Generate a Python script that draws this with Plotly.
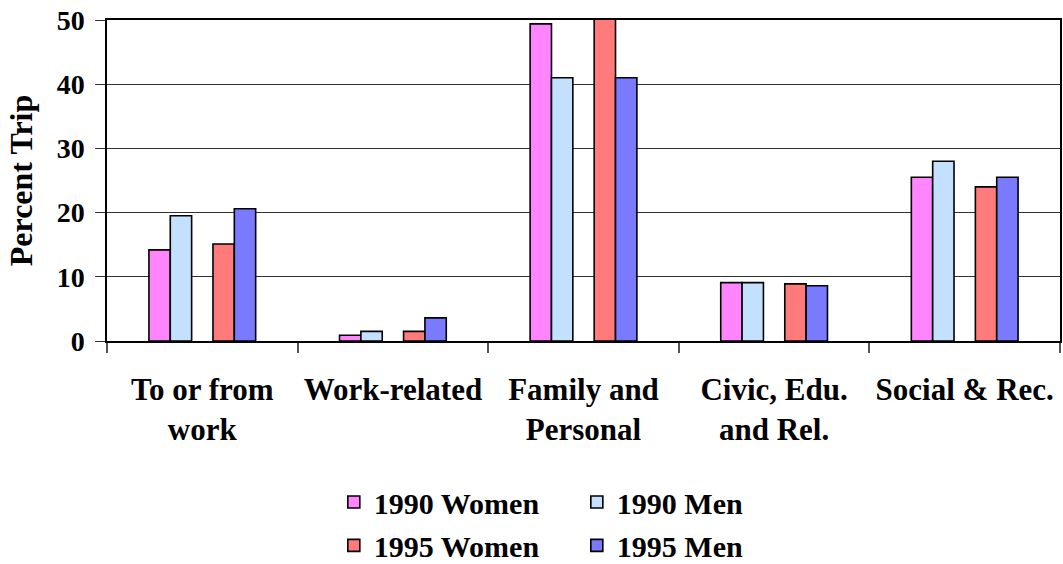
import plotly.graph_objects as go

categories = ["To or from<br>work", "Work-related", "Family and<br>Personal",
              "Civic, Edu.<br>and Rel.", "Social & Rec."]
women_1990 = [14.2, 0.9, 49.4, 9.1, 25.5]
men_1990 = [19.5, 1.5, 41.0, 9.1, 28.0]
women_1995 = [15.1, 1.5, 50.5, 8.9, 24.0]
men_1995 = [20.6, 3.6, 41.0, 8.6, 25.5]
gap_series = [None, None, None, None, None]
y_ticks = [0, 10, 20, 30, 40, 50]

FONT = "Liberation Serif, Times New Roman, serif"
outline = dict(color="black", width=1.6)

fig = go.Figure()
series = [
    ("1990 Women", women_1990, "#FF85FF", "legend"),
    ("1990 Men", men_1990, "#C4E0FF", "legend2"),
    (None, gap_series, "white", None),
    ("1995 Women", women_1995, "#FF7A7A", "legend3"),
    ("1995 Men", men_1995, "#7A7AFF", "legend4"),
]
for name, vals, col, leg in series:
    if name is None:
        fig.add_trace(go.Bar(x=categories, y=vals, showlegend=False,
                             marker=dict(color=col), hoverinfo="skip"))
    else:
        fig.add_trace(go.Bar(x=categories, y=vals, name=name, legend=leg,
                             cliponaxis=False,
                             marker=dict(color=col, line=outline)))

legend_style = dict(font=dict(family=FONT, size=30, color="black", weight="bold"),
                    bgcolor="rgba(0,0,0,0)", borderwidth=0,
                    xanchor="left", yanchor="middle",
                    xref="paper", yref="container")
fig.update_layout(
    width=1063, height=564,
    margin=dict(l=107, r=3, t=20, b=223),
    paper_bgcolor="white", plot_bgcolor="white",
    barmode="group", bargap=0.44, bargroupgap=0,
    font=dict(family=FONT, color="black", weight="bold"),
    legend=dict(x=0.238, y=0.1099, **legend_style),
    legend2=dict(x=0.493, y=0.1099, **legend_style),
    legend3=dict(x=0.238, y=0.033, **legend_style),
    legend4=dict(x=0.493, y=0.033, **legend_style),
    xaxis=dict(
        type="category", showline=True, linecolor="black", linewidth=1.5,
        mirror=True, ticks="outside", tickson="boundaries", ticklen=10,
        tickcolor="#555", tickwidth=1.5, showgrid=False,
        tickfont=dict(family=FONT, size=31, color="black", weight="bold"),
        ticklabelstandoff=20, automargin=False,
    ),
    yaxis=dict(
        range=[0, 50], tickvals=y_ticks, showline=True, linecolor="black",
        linewidth=1.5, mirror=True, ticks="outside", ticklen=10,
        tickcolor="#333", showgrid=True, gridcolor="#333", gridwidth=1,
        zeroline=False, ticklabeloverflow="allow",
        tickfont=dict(family=FONT, size=28, color="black", weight="bold"),
        ticklabelstandoff=5, automargin=False,
        title=dict(text="Percent Trip",
                   font=dict(family=FONT, size=32, color="black", weight="bold"),
                   standoff=14),
    ),
)

fig.write_html("out.html",
               config={"displayModeBar": False},
               post_script="document.body.style.margin='0';")
